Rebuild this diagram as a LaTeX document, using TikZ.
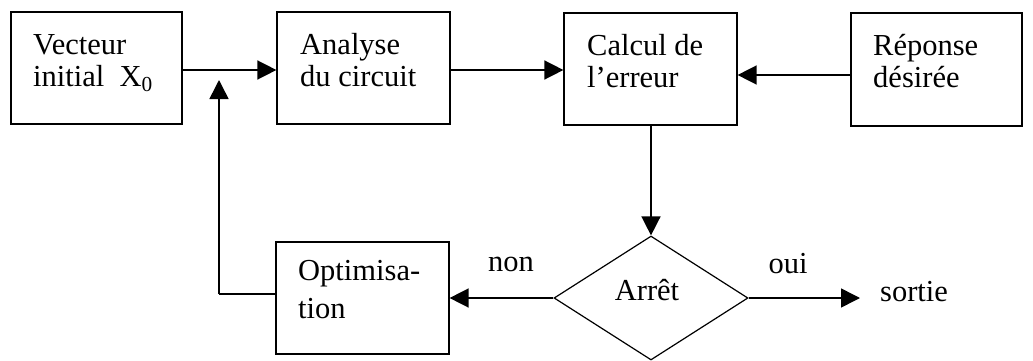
\documentclass[tikz,border=0pt]{standalone}
\usepackage{fontspec}
\setmainfont{Liberation Serif}
\usetikzlibrary{arrows.meta,shapes.geometric}
\begin{document}
\begin{tikzpicture}[x=1pt,y=-1pt,
  box/.style={draw,line width=1.2pt,rectangle,inner sep=0pt},
  txt/.style={anchor=base west,inner sep=0pt,font=\fontsize{30.5}{31}\selectfont},
  lbl/.style={anchor=base,inner sep=0pt,font=\fontsize{30.5}{31}\selectfont},
  flow/.style={line width=1.5pt,-{Triangle[length=19pt,width=19pt]}},
  line/.style={line width=1.5pt}]
\useasboundingbox (0,0) rectangle (1033,361);
% blocks
\node[box,minimum width=171pt,minimum height=112pt] (vec) at (96.5,68) {};
\node[box,minimum width=173pt,minimum height=112pt] (ana) at (363.5,68) {};
\node[box,minimum width=173pt,minimum height=112pt] (cal) at (650.5,69) {};
\node[box,minimum width=171pt,minimum height=113pt] (rep) at (936.5,69.5) {};
\node[box,minimum width=173pt,minimum height=112pt] (opt) at (362.5,298) {};
\node[draw,line width=1.2pt,diamond,inner sep=0pt,minimum width=194pt,minimum height=124pt] (arr) at (651,298) {};
% texts
\node[txt] (t1a) at (33,55) {Vecteur};
\node[txt] (t1b) at (33,86) {initial\ \ X\textsubscript{0}};
\node[txt] (t2a) at (300,55) {Analyse};
\node[txt] (t2b) at (300,86) {du circuit};
\node[txt] (t3a) at (587,56) {Calcul de};
\node[txt] (t3b) at (587,87) {l’erreur};
\node[txt] (t4a) at (873,56) {Réponse};
\node[txt] (t4b) at (873,87) {désirée};
\node[txt] (t5a) at (298,280) {Optimisa-};
\node[txt] (t5b) at (298,318) {tion};
\node[lbl] (t6) at (647,300) {Arrêt};
\node[lbl] (non) at (511,271) {non};
\node[lbl] (oui) at (788,273) {oui};
\node[txt] (sortie) at (880,301) {sortie};
% connectors
\coordinate (join) at (219,70);
\coordinate (out) at (860,298);
\draw[flow] (vec.east |- 0,70) -- (ana.west |- 0,70);
\draw[flow] (ana.east |- 0,70) -- (cal.west |- 0,70);
\draw[flow] (rep.west |- 0,75) -- (cal.east |- 0,75);
\draw[flow] (arr.north |- cal.south) -- (arr.north);
\draw[flow] (arr.west) -- (opt.east |- arr.west);
\draw[flow] (arr.east) -- (out);
\draw[line] (opt.west |- 0,294) -- (219,294);
\draw[flow] (219,294) -- ([yshift=-10pt]join);
\end{tikzpicture}
\end{document}
